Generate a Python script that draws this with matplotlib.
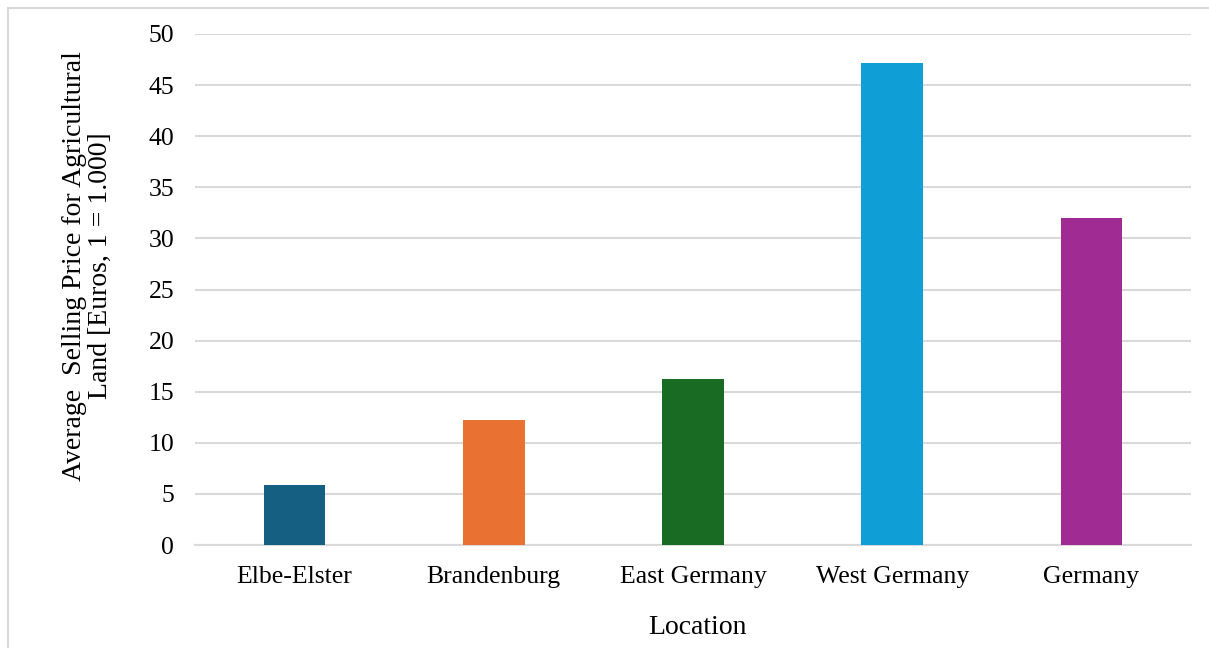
import matplotlib
matplotlib.use('Agg')
from matplotlib import pyplot as plt
from matplotlib.lines import Line2D

locations = ['Elbe-Elster', 'Brandenburg', 'East Germany', 'West Germany', 'Germany']
prices = [5.9, 12.2, 16.2, 47.2, 32.0]  # 1 = 1.000 Euros
colors = ['#156082', '#E97132', '#196B24', '#0F9ED5', '#A02B93']
yticks = list(range(0, 55, 5))

plt.rcParams['font.family'] = ['Liberation Serif', 'DejaVu Serif']

W, H = 1209, 648
fig = plt.figure(figsize=(W/100, H/100), dpi=100)
ax = fig.add_axes([195/W, 1-545/H, (1191-195)/W, (545-34)/H])

x = range(len(locations))
ax.bar(x, prices, width=0.31, color=colors, zorder=3)

ax.set_xlim(-0.5, len(locations)-0.5)
ax.set_ylim(0, 50)
ax.set_yticks(yticks)
ax.set_xticks(list(x))
ax.set_xticklabels(locations)
ax.yaxis.grid(True, color='#D9D9D9', linewidth=1.5, zorder=0)
ax.tick_params(axis='both', length=0, labelsize=18.5, colors='black')
ax.tick_params(axis='y', pad=15)
ax.tick_params(axis='x', pad=15)
for s in ['top', 'right', 'left']:
    ax.spines[s].set_visible(False)
ax.spines['bottom'].set_color('#D9D9D9')
ax.spines['bottom'].set_linewidth(1.5)

# axis titles
fig.text(697/W, 1-627/H, 'Location', fontsize=20, ha='center', va='center')
fig.text(87/W, 1-266/H, 'Average  Selling Price for Agricultural\nLand [Euros, 1 = 1.000]',
         fontsize=20, rotation=90, ha='center', va='center', multialignment='center',
         linespacing=1.05)

# light frame on the top and left edge
fig.add_artist(Line2D([8/W, 1], [1-8/H, 1-8/H], transform=fig.transFigure,
                      color='#D9D9D9', linewidth=1.5))
fig.add_artist(Line2D([8/W, 8/W], [0, 1-8/H], transform=fig.transFigure,
                      color='#D9D9D9', linewidth=1.5))

fig.savefig('out.png', dpi=100)
